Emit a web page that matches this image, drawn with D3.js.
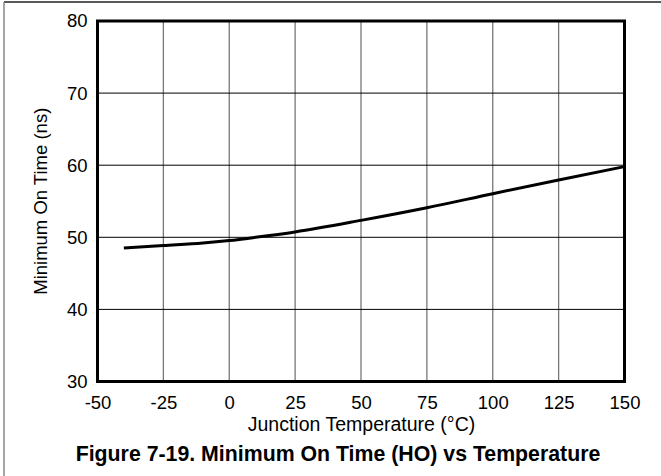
<!DOCTYPE html>
<html><head><meta charset="utf-8">
<script src="https://cdn.jsdelivr.net/npm/d3@7"></script>
<style>body{margin:0;background:#fff}svg{display:block}text{font-family:"Liberation Sans",Arial,sans-serif}</style>
</head><body>
<svg id="c" width="661" height="476"></svg>
<script>
const temperature = [-40, -25, -10, 0, 10, 25, 50, 75, 100, 125, 150];
const minOnTime = [48.5, 48.85, 49.2, 49.55, 50.0, 50.75, 52.35, 54.1, 56.05, 57.95, 59.8];
const xTicks = [-50, -25, 0, 25, 50, 75, 100, 125, 150];
const yTicks = [30, 40, 50, 60, 70, 80];
const xTitle = "Junction Temperature (\u00B0C)";
const yTitle = "Minimum On Time (ns)";
const caption = "Figure 7-19. Minimum On Time (HO) vs Temperature";

const svg = d3.select("#c");
const L = 97.5, R = 624.5, T = 21, B = 381.5;
const x = d3.scaleLinear().domain([-50, 150]).range([L, R]);
const y = d3.scaleLinear().domain([30, 80]).range([B, T]);
const FF = "Liberation Sans, Arial, sans-serif";

// outer frame (top and left only visible)
svg.append("line").attr("x1", 4).attr("x2", 661).attr("y1", 2).attr("y2", 2).attr("stroke", "#222").attr("stroke-width", 1.5);
svg.append("line").attr("x1", 4).attr("x2", 4).attr("y1", 2).attr("y2", 476).attr("stroke", "#888").attr("stroke-width", 1.5);

// grid
svg.append("g").selectAll("line").data(xTicks.slice(1, -1)).join("line")
  .attr("x1", d => x(d)).attr("x2", d => x(d)).attr("y1", T).attr("y2", B)
  .attr("stroke", "#777").attr("stroke-width", 1.3);
svg.append("g").selectAll("line").data(yTicks.slice(1, -1)).join("line")
  .attr("x1", L).attr("x2", R).attr("y1", d => y(d)).attr("y2", d => y(d))
  .attr("stroke", "#000").attr("stroke-width", 1);

// axes (labels only)
const xAxis = svg.append("g").attr("transform", `translate(0,${B})`)
  .call(d3.axisBottom(x).tickValues(xTicks).tickSize(0).tickPadding(14).tickFormat(d => String(d)));
xAxis.select(".domain").remove();
xAxis.selectAll("text").attr("font-size", 18.5).attr("fill", "#000").attr("font-family", FF);
const yAxis = svg.append("g").attr("transform", `translate(${L},0)`)
  .call(d3.axisLeft(y).tickValues(yTicks).tickSize(0).tickPadding(10).tickFormat(d => String(d)));
yAxis.select(".domain").remove();
yAxis.selectAll("text").attr("font-size", 18.5).attr("fill", "#000").attr("font-family", FF);

// curve
const line = d3.line().x((d, i) => x(temperature[i])).y(d => y(d)).curve(d3.curveMonotoneX);
svg.append("path").datum(minOnTime).attr("d", line).attr("fill", "none").attr("stroke", "#000").attr("stroke-width", 3);

// frame
svg.append("rect").attr("x", L).attr("y", T).attr("width", R - L).attr("height", B - T)
  .attr("fill", "none").attr("stroke", "#000").attr("stroke-width", 3);

// titles
svg.append("text").attr("x", 361.5).attr("y", 431).attr("text-anchor", "middle").attr("font-size", 19.5).text(xTitle);
svg.append("text").attr("transform", `translate(47,${(T + B) / 2}) rotate(-90)`).attr("text-anchor", "middle").attr("font-size", 18.5).text(yTitle);
svg.append("text").attr("x", 338).attr("y", 461).attr("text-anchor", "middle").attr("font-size", 21.3).attr("font-weight", "bold").text(caption);
</script>
</body></html>
